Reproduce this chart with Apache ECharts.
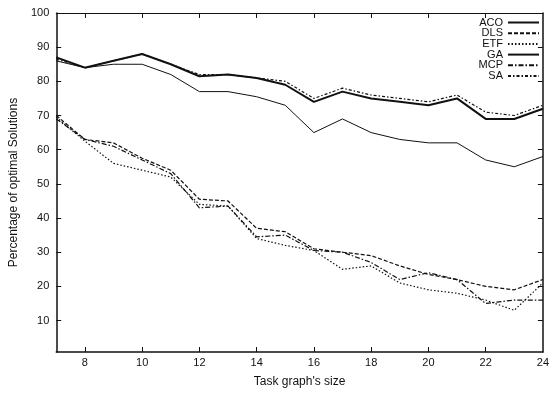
<!DOCTYPE html>
<html>
<head>
<meta charset="utf-8">
<script src="https://cdn.jsdelivr.net/npm/echarts@6/dist/echarts.min.js"></script>
<style>html,body{margin:0;padding:0;background:#fff}#c{width:552px;height:393px}</style>
</head>
<body>
<div id="c"></div>
<script>
var sizes = [7,8,9,10,11,12,13,14,15,16,17,18,19,20,21,22,23,24];
var ACO = [87,84,86,88,85,81.5,82,81,79,74,77,75,74,73,75,69,69,72];
var DLS = [70,63,62,57.5,54,45.5,45,37,36,31,30,29,26,23.5,22,20,19,22];
var ETF = [69.5,62.5,56,54,52,44,43.5,34,32,30.5,25,26,21,19,18,16,13,21];
var GA  = [86,84,85,85,82,77,77,75.5,73,65,69,65,63,62,62,57,55,58];
var MCP = [69,63,61,57,53,43,43.5,34.5,35,30.5,30,27,22,24,22,15,16,16];
var SA  = [86.5,84,86,88,85,82,82,81,80,75,78,76,75,74,76,71,70,73];
var yTicks = [10,20,30,40,50,60,70,80,90,100];
var xLabels = [8,10,12,14,16,18,20,22,24];
var xTicks = [8,10,12,14,16,18,20,22];

function pts(arr){ return sizes.map(function(s,i){ return [s, arr[i]]; }); }
var ink = '#111';
function ser(name, arr, width, type){
  return {name:name, type:'line', data:pts(arr), symbol:'none', showSymbol:false,
    lineStyle:{color:ink, width:width, type:type}, itemStyle:{color:ink}, animation:false};
}
var chart = echarts.init(document.getElementById('c'));
var font = 'Liberation Sans, Arial, sans-serif';
chart.setOption({
  animation:false,
  backgroundColor:'#fff',
  textStyle:{fontFamily:font},
  grid:{left:55, right:1, top:13, bottom:34},
  legend:{
    orient:'vertical', right:7, top:12, align:'right', itemWidth:31, itemHeight:8, itemGap:-0.3,
    itemStyle:{opacity:0},
    textStyle:{fontFamily:font, fontSize:11, color:ink},
    data:['ACO','DLS','ETF','GA','MCP','SA']
  },
  xAxis:[{
    type:'value', min:7, max:24, position:'bottom',
    name:"Task graph's size", nameLocation:'middle', nameGap:24,
    nameTextStyle:{fontFamily:font, fontSize:12, color:ink},
    axisLine:{show:true, onZero:false, lineStyle:{color:ink, width:1.5}},
    axisTick:{show:true, inside:true, length:5, customValues:xTicks, lineStyle:{color:ink}},
    axisLabel:{customValues:xLabels, fontFamily:font, fontSize:11, color:ink, margin:5},
    splitLine:{show:false}
  },{
    type:'value', min:7, max:24, position:'top',
    axisLine:{show:true, onZero:false, lineStyle:{color:ink, width:1}},
    axisTick:{show:true, inside:true, length:5, customValues:xTicks, lineStyle:{color:ink}},
    axisLabel:{show:false}, splitLine:{show:false}
  }],
  yAxis:[{
    type:'value', min:0.8, max:100, position:'left',
    name:'Percentage of optimal Solutions', nameLocation:'middle', nameGap:34, nameRotate:90,
    nameTextStyle:{fontFamily:font, fontSize:12, color:ink},
    axisLine:{show:true, onZero:false, lineStyle:{color:ink, width:1.5}},
    axisTick:{show:true, inside:true, length:5, customValues:yTicks, lineStyle:{color:ink}},
    axisLabel:{customValues:yTicks, fontFamily:font, fontSize:11, color:ink, margin:7},
    splitLine:{show:false}
  },{
    type:'value', min:0.8, max:100, position:'right',
    axisLine:{show:true, onZero:false, lineStyle:{color:ink, width:1.5}},
    axisTick:{show:true, inside:true, length:5, customValues:yTicks, lineStyle:{color:ink}},
    axisLabel:{show:false}, splitLine:{show:false}
  }],
  series:[
    ser('ACO', ACO, 2, 'solid'),
    ser('DLS', DLS, 1.2, [4,2]),
    ser('ETF', ETF, 1.2, [1.5,2]),
    ser('GA', GA, 1, 'solid'),
    ser('MCP', MCP, 1.2, [5,2,1.5,2]),
    ser('SA', SA, 1.2, [3,2,1.5,2])
  ]
});
</script>
</body>
</html>
